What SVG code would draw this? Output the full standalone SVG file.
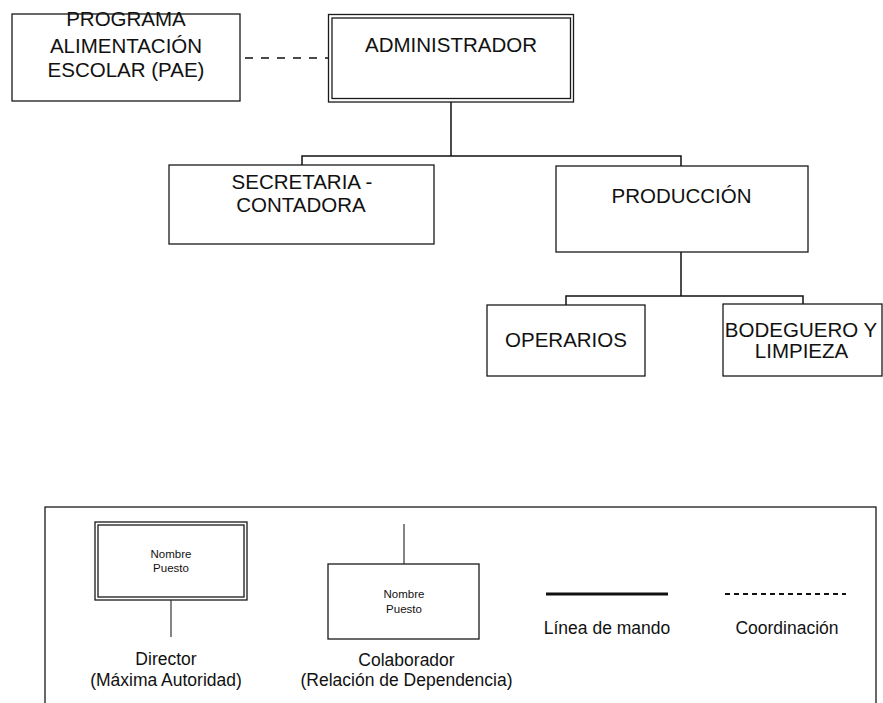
<svg xmlns="http://www.w3.org/2000/svg" width="883" height="703" viewBox="0 0 883 703">
<style>
.box{fill:#fff;stroke:#1a1a1a;stroke-width:1.3}
.t{font-family:"Liberation Sans",Arial,sans-serif;font-size:20.5px;fill:#111;text-anchor:middle}
.s{font-family:"Liberation Sans",Arial,sans-serif;font-size:17.5px;fill:#111;text-anchor:middle}
.x{font-family:"Liberation Sans",Arial,sans-serif;font-size:11.5px;fill:#111;text-anchor:middle}
.c{fill:none;stroke:#111;stroke-width:1.5}
</style>
<rect width="883" height="703" fill="#fff"/>
<g id="connectors">
<line class="c" x1="245" y1="58" x2="328" y2="58" stroke-dasharray="8 8"/>
<polyline class="c" points="451,102 451,156"/>
<polyline class="c" points="302,165 302,156 681,156 681,166"/>
<polyline class="c" points="681,252 681,296"/>
<polyline class="c" points="566,305 566,296 803,296 803,304"/>
</g>
<g id="pae">
<rect class="box" x="12" y="14" width="228" height="87"/>
<text class="t" x="126" y="25.5">PROGRAMA</text>
<text class="t" x="126" y="53">ALIMENTACIÓN</text>
<text class="t" x="126" y="77">ESCOLAR (PAE)</text>
</g>
<g id="administrador">
<rect class="box" x="328.5" y="14.5" width="245" height="87.5"/>
<rect class="box" x="332" y="18" width="238.5" height="80.5"/>
<text class="t" x="451" y="52">ADMINISTRADOR</text>
</g>
<g id="secretaria">
<rect class="box" x="169" y="165" width="265" height="79"/>
<text class="t" x="302" y="189">SECRETARIA -</text>
<text class="t" x="301" y="212">CONTADORA</text>
</g>
<g id="produccion">
<rect class="box" x="556" y="166" width="252" height="86"/>
<text class="t" x="681.5" y="203">PRODUCCIÓN</text>
</g>
<g id="operarios">
<rect class="box" x="487" y="305" width="158" height="71"/>
<text class="t" x="566" y="347">OPERARIOS</text>
</g>
<g id="bodeguero">
<rect class="box" x="723" y="304" width="159" height="72"/>
<text class="t" x="801" y="337">BODEGUERO Y</text>
<text class="t" x="801.5" y="358">LIMPIEZA</text>
</g>
<g id="legend">
<rect x="45" y="507" width="831" height="210" fill="none" stroke="#1a1a1a" stroke-width="1.3"/>
<rect class="box" x="95" y="522" width="152" height="78"/>
<rect class="box" x="98" y="525" width="146" height="72"/>
<text class="x" x="171" y="558">Nombre</text>
<text class="x" x="171" y="572">Puesto</text>
<line x1="171" y1="600" x2="171" y2="637" stroke="#333" stroke-width="1.2"/>
<text class="s" x="166" y="665">Director</text>
<text class="s" x="166" y="686">(Máxima Autoridad)</text>
<line x1="404" y1="524" x2="404" y2="564" stroke="#333" stroke-width="1.2"/>
<rect class="box" x="328" y="564" width="151" height="75"/>
<text class="x" x="404" y="598">Nombre</text>
<text class="x" x="404" y="613">Puesto</text>
<text class="s" x="406.5" y="666">Colaborador</text>
<text class="s" x="406.5" y="686">(Relación de Dependencia)</text>
<line x1="546" y1="594" x2="668" y2="594" stroke="#111" stroke-width="3"/>
<text class="s" x="607" y="634">Línea de mando</text>
<line x1="725" y1="594" x2="846" y2="594" stroke="#111" stroke-width="2" stroke-dasharray="5 4"/>
<text class="s" x="787" y="634">Coordinación</text>
</g>
</svg>
